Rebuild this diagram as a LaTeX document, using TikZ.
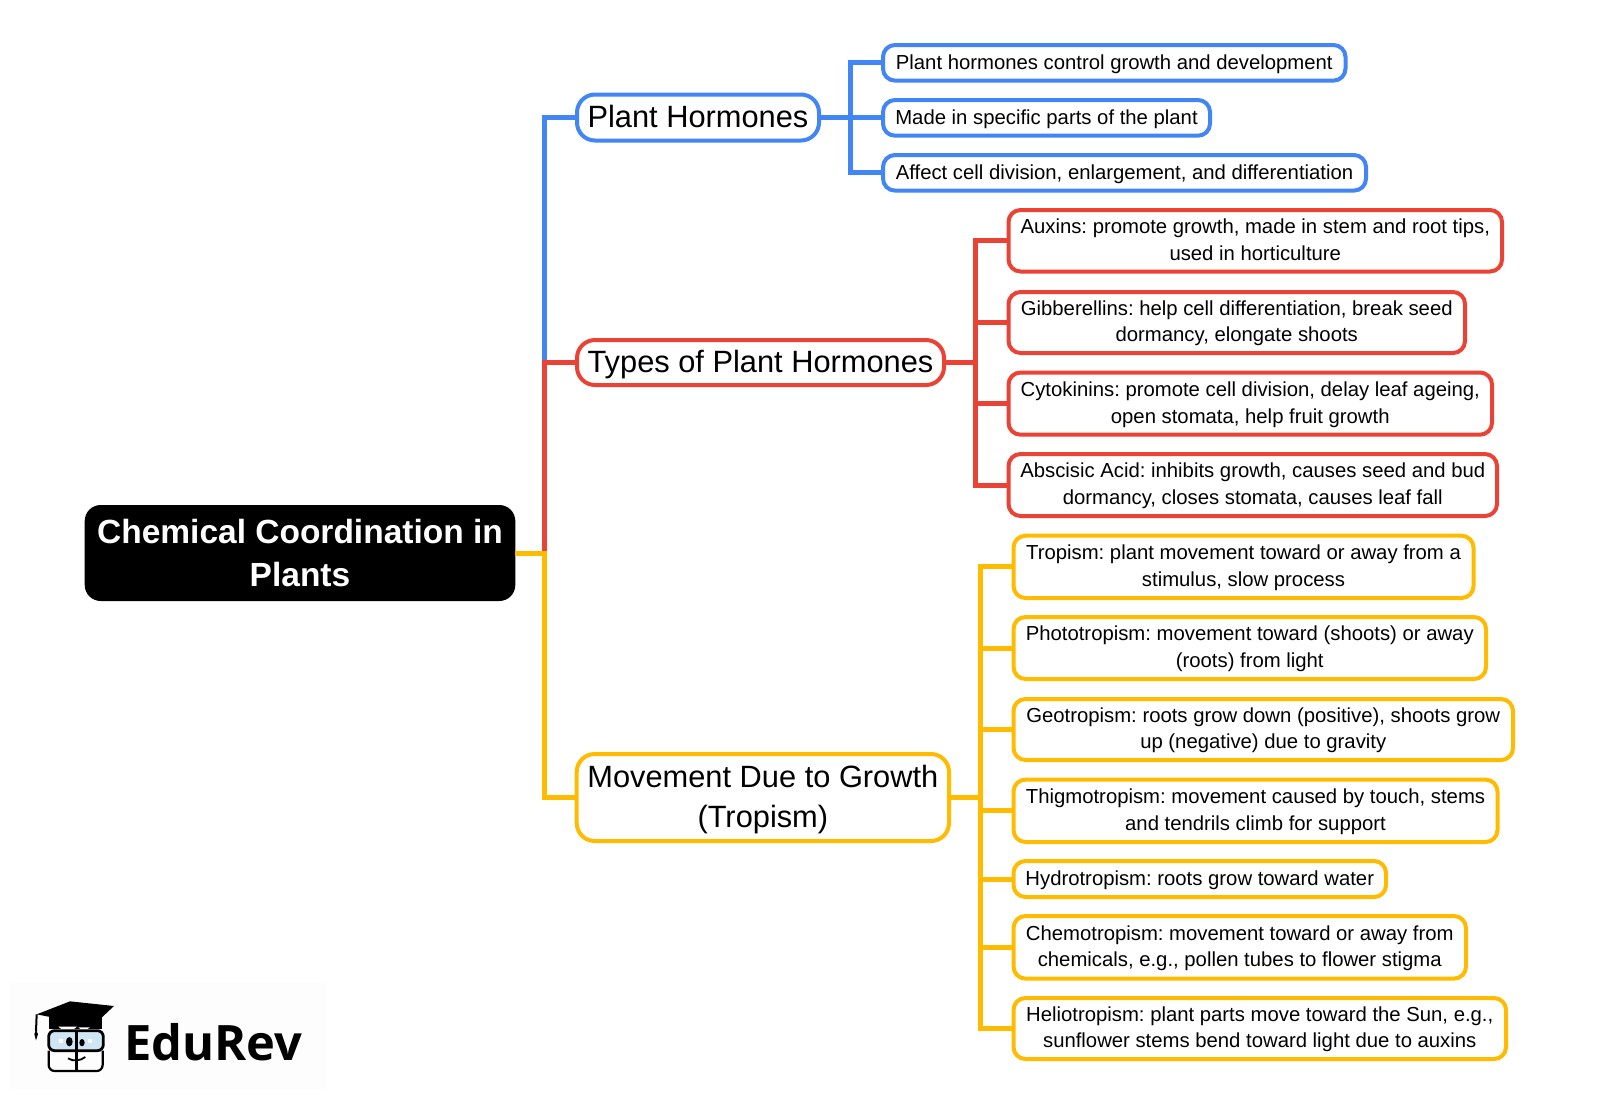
\documentclass[tikz,border=0pt]{standalone}
\usepackage{fontspec}
\setmainfont{Liberation Sans}
\newfontfamily\logofont{Open Sans}
\definecolor{cblue}{HTML}{4285F4}
\definecolor{cred}{HTML}{EA4335}
\definecolor{cyel}{HTML}{FFBB00}
\definecolor{cglass}{HTML}{CFE6F5}
\tikzset{
  boxbase/.style={draw,fill=white,line width=2pt,rounded corners=6pt,align=center,inner sep=0pt,outer sep=0pt,text=black},
  rootbox/.style={fill=black,text=white,rounded corners=8pt,align=center,inner sep=0pt,outer sep=0pt,font=\fontsize{16.75}{21.8}\selectfont\bfseries},
  branchbox/.style={boxbase,rounded corners=9pt,text depth=1pt,font=\fontsize{15.4}{20}\selectfont},
  leafbox/.style={boxbase,text depth=1.2pt,font=\frenchspacing\fontsize{10.15}{13.3}\selectfont},
  singleleaf/.style={leafbox,text depth=0.6pt},
  conn/.style={line width=2.5pt,line join=miter},
}
\newcommand{\bx}[7]{\node[#1,minimum width={(#5-#3-2)*0.5pt},minimum height={(#6-#4-2)*0.5pt}] (#2) at ({(#3+#5)/2},{(#4+#6)/2}) {#7};}
\begin{document}
\begin{tikzpicture}[x=0.5pt,y=-0.5pt]
\useasboundingbox (0,0) rectangle (1600,1104);
\fill[white] (0,0) rectangle (1600,1104);
% logo
\fill[black!0.6] (10,982) rectangle (326,1090);
\begin{scope}[shift={(0,960)},xscale=1/3,yscale=1/3]
  \draw[line width=1pt,black] (110,163) -- (108,215);
  \fill[black] (108,210) -- (114,222) -- (108,241) -- (103,222) -- cycle;
  \fill[black] (148,172) -- (305,172) -- (305,208) -- (148,208) -- cycle;
  \fill[white] (175,200) arc[start angle=150,end angle=30,x radius=32,y radius=22] -- cycle;
  \fill[white] (235,202) arc[start angle=150,end angle=30,x radius=20,y radius=14] -- cycle;
  \draw[line width=1.1pt,black,rounded corners=3pt] (146,272) -- (146,333) -- (308,333) -- (308,272);
  \draw[line width=1.4pt,black,fill=cglass,rounded corners=3pt] (146,212) rectangle (310,272);
  \draw[line width=1.4pt,black] (230,212) -- (230,335);
  \fill[white] (176,238) rectangle (188,248);
  \fill[white] (264,238) rectangle (276,248);
  \fill[black] (208,245) ellipse[x radius=10,y radius=14];
  \fill[black] (246,248) ellipse[x radius=8,y radius=11];
  \draw[line width=0.9pt,black] (204,295) .. controls (220,305) and (240,303) .. (256,291);
  \fill[black] (110,163) -- (210,124) -- (342,138) -- (280,196) -- cycle;
\end{scope}
\node[anchor=base west,inner sep=0pt,font=\logofont\bfseries\fontsize{24.4}{30}\selectfont] (logo) at (124,1060) {EduRev};
% nodes
\bx{rootbox}{root}{83.7}{504}{516.3}{602}{Chemical Coordination in\\Plants}
\bx{branchbox,draw=cblue}{P}{576}{93.5}{820}{141.5}{Plant Hormones}
\bx{branchbox,draw=cred}{T}{576}{339}{945}{386}{Types of Plant Hormones}
\bx{branchbox,draw=cyel}{M}{575.7}{753}{950}{842}{Movement Due to Growth\\(Tropism)}
\bx{singleleaf,draw=cblue}{b1}{882}{44}{1346.5}{81.6}{Plant hormones control growth and development}
\bx{singleleaf,draw=cblue}{b2}{882}{99}{1211}{136.7}{Made in specific parts of the plant}
\bx{singleleaf,draw=cblue}{b3}{882}{154}{1367}{191.6}{Affect cell division, enlargement, and differentiation}
\bx{leafbox,draw=cred}{r1}{1007.5}{209}{1503}{272.5}{Auxins: promote growth, made in stem and root tips,\\used in horticulture}
\bx{leafbox,draw=cred}{r2}{1007.5}{291}{1466}{354}{Gibberellins: help cell differentiation, break seed\\dormancy, elongate shoots}
\bx{leafbox,draw=cred}{r3}{1007.5}{371.5}{1493}{435.7}{Cytokinins: promote cell division, delay leaf ageing,\\open stomata, help fruit growth}
\bx{leafbox,draw=cred}{r4}{1007.5}{453}{1498}{517}{Abscisic Acid: inhibits growth, causes seed and bud\\dormancy, closes stomata, causes leaf fall}
\bx{leafbox,draw=cyel}{y1}{1012.5}{534.7}{1474.5}{599}{Tropism: plant movement toward or away from a\\stimulus, slow process}
\bx{leafbox,draw=cyel}{y2}{1012.5}{616}{1487}{680}{Phototropism: movement toward (shoots) or away\\(roots) from light}
\bx{leafbox,draw=cyel}{y3}{1012.5}{698}{1514}{761}{Geotropism: roots grow down (positive), shoots grow\\up (negative) due to gravity}
\bx{leafbox,draw=cyel}{y4}{1012.5}{778.6}{1498.5}{843}{Thigmotropism: movement caused by touch, stems\\and tendrils climb for support}
\bx{singleleaf,draw=cyel}{y5}{1012.5}{860}{1387}{898}{Hydrotropism: roots grow toward water}
\bx{leafbox,draw=cyel}{y6}{1012.5}{915}{1467}{979.6}{Chemotropism: movement toward or away from\\chemicals, e.g., pollen tubes to flower stigma}
\bx{leafbox,draw=cyel}{y7}{1012.5}{997}{1507}{1060}{Heliotropism: plant parts move toward the Sun, e.g.,\\sunflower stems bend toward light due to auxins}
% buses
\coordinate (trunk) at (544.3,0);
\coordinate (busB) at (850.7,0);
\coordinate (busR) at (975.7,0);
\coordinate (busY) at (980,0);
% connectors
\draw[conn,cblue] (root.east) -- (trunk |- root.east) |- (P.west);
\draw[conn,cred] (root.east) -- (trunk |- root.east) |- (T.west);
\draw[conn,cyel] (root.east) -- (trunk |- root.east) |- (M.west);
\foreach \c in {b1,b2,b3}{\draw[conn,cblue] (P.east) -- (busB |- P.east) |- (\c.west);}
\foreach \c in {r1,r2,r3,r4}{\draw[conn,cred] (T.east) -- (busR |- T.east) |- (\c.west);}
\foreach \c in {y1,y2,y3,y4,y5,y6,y7}{\draw[conn,cyel] (M.east) -- (busY |- M.east) |- (\c.west);}
\end{tikzpicture}
\end{document}
